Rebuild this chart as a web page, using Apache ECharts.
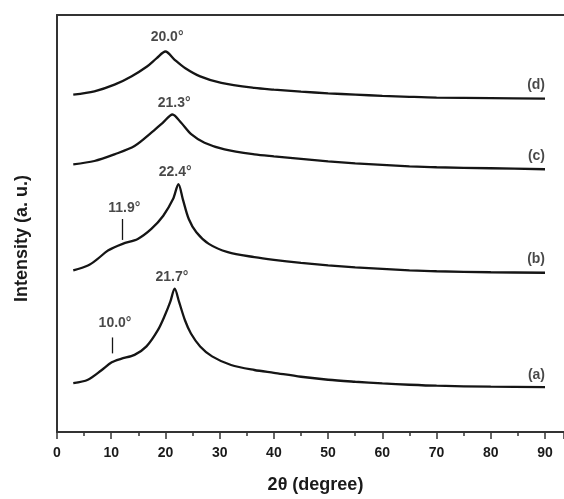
<!DOCTYPE html>
<html>
<head>
<meta charset="utf-8">
<script src="https://cdn.jsdelivr.net/npm/echarts@6/dist/echarts.min.js"></script>
<style>
  html, body { margin: 0; padding: 0; background: #fff; }
  #chart { width: 564px; height: 499px; }
</style>
</head>
<body>
<div id="chart"></div>
<script>
// XRD patterns, 2θ in degrees vs stacked intensity (arbitrary units)
const xTicks = [0, 10, 20, 30, 40, 50, 60, 70, 80, 90];

const thetaA = [3, 5.7, 8.2, 10.1, 11.8, 14.3, 16.5, 18.6, 19.9, 20.9, 21.7, 22.5, 23.6, 24.7, 26.4, 28.6, 32.1, 36.4, 40, 45, 50, 55, 60, 65, 70, 80, 90];
const intA   = [49, 52.5, 62, 70, 73.5, 77.5, 86, 102.3, 117.3, 131, 144, 131, 112.3, 99, 86, 76, 67.3, 62.3, 59.5, 55.5, 52.5, 50.5, 48.8, 47.5, 46.5, 45.5, 45];

const thetaB = [3, 5.7, 7.5, 9.4, 12.1, 14.9, 17.4, 19.6, 21.4, 22.4, 23.2, 24.3, 25.7, 28, 31.5, 36.4, 40, 45, 50, 55, 60, 65, 70, 80, 90];
const intB   = [162.3, 167.3, 174, 182.3, 189, 194, 204, 217.3, 234, 249, 234, 214, 200.7, 189, 180.7, 175.7, 173, 170, 167.5, 165.5, 164, 162.5, 161.5, 160.5, 160];

const thetaC = [3, 6.9, 10.6, 14.3, 17.4, 19.5, 21.3, 22.9, 24.8, 27.2, 30.9, 36.4, 40, 45, 50, 55, 60, 65, 70, 80, 90];
const intC   = [269, 272.3, 279, 287.3, 300.7, 310.7, 319, 310.7, 299, 290.7, 284, 279, 277, 274.5, 272, 270, 268.5, 267, 266, 265, 264];

const thetaD = [3, 6.9, 10.6, 13.7, 16.6, 18.4, 20.0, 21.7, 23.6, 26.4, 30.3, 36.4, 40, 45, 50, 55, 60, 65, 70, 80, 90];
const intD   = [339, 342.3, 349, 357.3, 367.3, 375.7, 382.3, 374, 365.7, 357.3, 350.7, 345.7, 344, 342, 340.3, 339, 337.8, 336.8, 336, 335.5, 335];

const peakLabels  = ['21.7°', '10.0°', '22.4°', '11.9°', '21.3°', '20.0°'];
const curveLabels = ['(a)', '(b)', '(c)', '(d)'];

const FONT = "'Liberation Sans', Arial, sans-serif";
const INK = '#151515';

function pairs(xs, ys) { return xs.map((x, i) => [x, ys[i]]); }

function curve(name, xs, ys) {
  return {
    name, type: 'line', data: pairs(xs, ys), showSymbol: false, smooth: 0.3,
    lineStyle: { color: INK, width: 2.3 }, z: 3, silent: true
  };
}

// text annotations placed in data coordinates
const notes = [
  [21.2, 156, peakLabels[0]],
  [10.7, 109, peakLabels[1]],
  [21.8, 261, peakLabels[2]],
  [12.4, 225, peakLabels[3]],
  [21.6, 330, peakLabels[4]],
  [20.3, 397, peakLabels[5]]
];
const tags = [
  [90, 57, curveLabels[0]],
  [90, 174, curveLabels[1]],
  [90, 277, curveLabels[2]],
  [90, 349, curveLabels[3]]
];

const chart = echarts.init(document.getElementById('chart'), null, { renderer: 'canvas' });
chart.setOption({
  backgroundColor: '#fff',
  animation: false,
  grid: { left: 57, right: 0, top: 15, bottom: 65 },
  xAxis: [{
    type: 'value', min: 0, max: 93.5, interval: 10,
    name: '2θ (degree)', nameLocation: 'middle', nameGap: 44,
    nameTextStyle: { fontFamily: FONT, fontWeight: 'bold', fontSize: 18, color: '#1a1a1a', padding: [0, 0, 0, 10] },
    axisLine: { show: true, onZero: false, lineStyle: { color: '#333', width: 2 } },
    axisTick: { show: true, inside: false, length: 7, lineStyle: { color: '#333', width: 1.5 } },
    minorTick: { show: true, splitNumber: 2, length: 4, lineStyle: { color: '#333', width: 1.5 } },
    axisLabel: {
      margin: 14, fontFamily: FONT, fontWeight: 'bold', fontSize: 14, color: '#1a1a1a',
      showMaxLabel: false,
      formatter: v => (xTicks.indexOf(v) >= 0 ? String(v) : '')
    },
    splitLine: { show: false }
  }, {
    type: 'value', position: 'top', min: 0, max: 93.5,
    axisLine: { show: true, onZero: false, lineStyle: { color: '#333', width: 2 } },
    axisTick: { show: false }, axisLabel: { show: false }, splitLine: { show: false }
  }],
  yAxis: {
    type: 'value', min: 0, max: 419,
    name: 'Intensity (a. u.)', nameLocation: 'middle', nameGap: 26, nameRotate: 90,
    nameTextStyle: { fontFamily: FONT, fontWeight: 'bold', fontSize: 18, color: '#1a1a1a', padding: [0, 30, 0, 0] },
    axisLine: { show: true, lineStyle: { color: '#333', width: 2 } },
    axisTick: { show: false }, axisLabel: { show: false }, splitLine: { show: false }
  },
  series: [
    curve('a', thetaA, intA),
    curve('b', thetaB, intB),
    curve('c', thetaC, intC),
    curve('d', thetaD, intD),
    {
      // shoulder markers
      type: 'line', data: [], silent: true,
      markLine: {
        symbol: 'none', silent: true, label: { show: false },
        lineStyle: { color: INK, width: 1.3, type: 'solid' },
        data: [
          [{ coord: [10.1, 79] }, { coord: [10.1, 95] }],
          [{ coord: [12.1, 193] }, { coord: [12.1, 214] }]
        ]
      }
    },
    {
      type: 'scatter', data: notes, symbolSize: 0, silent: true, z: 5,
      label: {
        show: true, position: 'inside', formatter: p => p.value[2],
        fontFamily: FONT, fontWeight: 'bold', fontSize: 14, color: '#1a1a1a'
      }
    },
    {
      type: 'scatter', data: tags, symbolSize: 0, silent: true, z: 5,
      label: {
        show: true, position: 'inside', align: 'right', formatter: p => p.value[2],
        fontFamily: FONT, fontWeight: 'bold', fontSize: 14, color: '#1a1a1a'
      }
    }
  ]
});
</script>
</body>
</html>
